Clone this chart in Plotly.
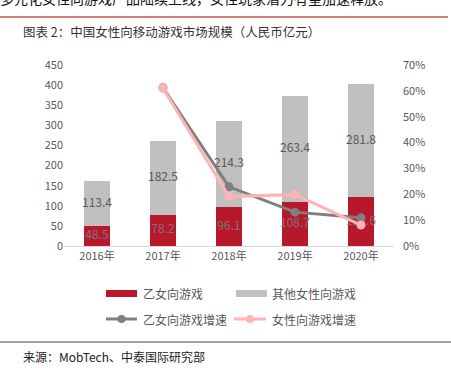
import plotly.graph_objects as go

years = ["2016年", "2017年", "2018年", "2019年", "2020年"]
otome = [48.5, 78.2, 96.1, 108.7, 120.6]
other = [113.4, 182.5, 214.3, 263.4, 281.8]
otome_growth = [None, 61.2, 22.9, 13.1, 10.9]
female_growth = [None, 61.0, 19.1, 19.9, 8.1]
left_ticks = [0, 50, 100, 150, 200, 250, 300, 350, 400, 450]
right_ticks = [0, 10, 20, 30, 40, 50, 60, 70]
right_labels = [f"{v}%" for v in right_ticks]
legend_names = ["乙女向游戏", "其他女性向游戏", "乙女向游戏增速", "女性向游戏增速"]

FONT = "Noto Sans CJK SC"
RED = "#b8182c"
GREY = "#c0c0c0"
LGREY = "#7f7f7f"
PINK = "#ffb3b5"

fig = go.Figure()
fig.add_trace(go.Bar(x=years, y=otome, name=legend_names[0], marker_color=RED,
                     marker_line_width=0, showlegend=False))
fig.add_trace(go.Bar(x=years, y=other, name=legend_names[1], marker_color=GREY,
                     marker_line_width=0, showlegend=False))
# value labels at segment centres
fig.add_trace(go.Scatter(x=years, y=[v / 2 for v in otome], mode="text",
                         text=[f"{v:.1f}" for v in otome], showlegend=False, hoverinfo="skip",
                         textfont=dict(color="#7f7377", size=12, family=FONT)))
fig.add_trace(go.Scatter(x=years, y=[o + v / 2 for o, v in zip(otome, other)], mode="text",
                         text=[f"{v:.1f}" for v in other], showlegend=False, hoverinfo="skip",
                         textfont=dict(color="#595959", size=12, family=FONT)))
fig.add_trace(go.Scatter(x=years, y=otome_growth, name=legend_names[2], yaxis="y2",
                         mode="lines+markers", line=dict(color=LGREY, width=3),
                         marker=dict(size=9, color=LGREY), showlegend=False))
fig.add_trace(go.Scatter(x=years, y=female_growth, name=legend_names[3], yaxis="y2",
                         mode="lines+markers", line=dict(color=PINK, width=3),
                         marker=dict(size=9, color=PINK), showlegend=False))

fig.update_layout(
    width=451, height=370,
    margin=dict(l=64, r=57, t=65, b=124),
    paper_bgcolor="white", plot_bgcolor="white",
    barmode="stack", bargap=0.6,
    font=dict(family=FONT, color="#595959", size=11),
    showlegend=False,
    xaxis=dict(showgrid=False, showline=True, linecolor="#d9d9d9", linewidth=1,
               ticks="", tickfont=dict(size=11, color="#595959")),
    yaxis=dict(range=[0, 450], tickvals=left_ticks, showgrid=False, zeroline=False,
               showline=False, ticks="", tickfont=dict(size=11, color="#595959")),
    yaxis2=dict(range=[0, 70], tickvals=right_ticks, ticktext=right_labels, overlaying="y",
                side="right", showgrid=False, zeroline=False, showline=False, ticks="",
                ticklabelstandoff=8, tickfont=dict(size=11, color="#595959")),
)

def px(x):
    return (x - 64) / 330

def py(y):
    return (246 - y) / 181

# manual legend
leg_font = dict(size=12, color="#595959", family=FONT)
fig.add_shape(type="rect", xref="paper", yref="paper", x0=px(106), x1=px(137), y0=py(297), y1=py(290),
              fillcolor=RED, line_width=0)
fig.add_shape(type="rect", xref="paper", yref="paper", x0=px(236), x1=px(267), y0=py(297), y1=py(290),
              fillcolor=GREY, line_width=0)
fig.add_shape(type="line", xref="paper", yref="paper", x0=px(106), x1=px(137), y0=py(319), y1=py(319),
              line=dict(color=LGREY, width=3))
fig.add_shape(type="line", xref="paper", yref="paper", x0=px(234), x1=px(266), y0=py(319), y1=py(319),
              line=dict(color=PINK, width=3))
for cx, col in [(121.5, LGREY), (250, PINK)]:
    fig.add_shape(type="circle", xref="paper", yref="paper", xsizemode="pixel", ysizemode="pixel",
                  xanchor=px(cx), yanchor=py(319), x0=-4, x1=4, y0=-4, y1=4,
                  fillcolor=col, line_width=0)
for name, x, y in [(legend_names[0], 141, 293.5), (legend_names[1], 270, 293.5),
                   (legend_names[2], 141, 319), (legend_names[3], 270, 319)]:
    fig.add_annotation(text=name, xref="paper", yref="paper", x=px(x), y=py(y),
                       xanchor="left", yanchor="middle", showarrow=False, font=leg_font)

# body text line cut off at the top of the page
fig.add_annotation(text="多元化女性向游戏产品陆续上线，女性玩家潜力有望加速释放。", xref="paper", yref="paper",
                   x=px(-2), y=py(-2), xanchor="left", yanchor="middle", showarrow=False,
                   font=dict(size=14, color="#111111", family=FONT))
fig.add_annotation(text="图表 2：中国女性向移动游戏市场规模（人民币亿元）", xref="paper", yref="paper",
                   x=px(21), y=py(32), xanchor="left", yanchor="middle", showarrow=False,
                   font=dict(size=12.5, color="#333333", family=FONT))
fig.add_annotation(text="来源：MobTech、中泰国际研究部", xref="paper", yref="paper",
                   x=px(21), y=py(356), xanchor="left", yanchor="middle", showarrow=False,
                   font=dict(size=12, color="#222222", family=FONT))
fig.add_shape(type="line", xref="paper", yref="paper", x0=px(0), x1=px(448), y0=py(17), y1=py(17),
              line=dict(color="#c0504d", width=1.5))
fig.add_shape(type="line", xref="paper", yref="paper", x0=px(0), x1=px(451), y0=py(342), y1=py(342),
              line=dict(color="#444444", width=1))

fig.write_html("out.html", config={"displayModeBar": False},
               post_script="document.body.style.margin='0';document.body.style.overflow='hidden';")
